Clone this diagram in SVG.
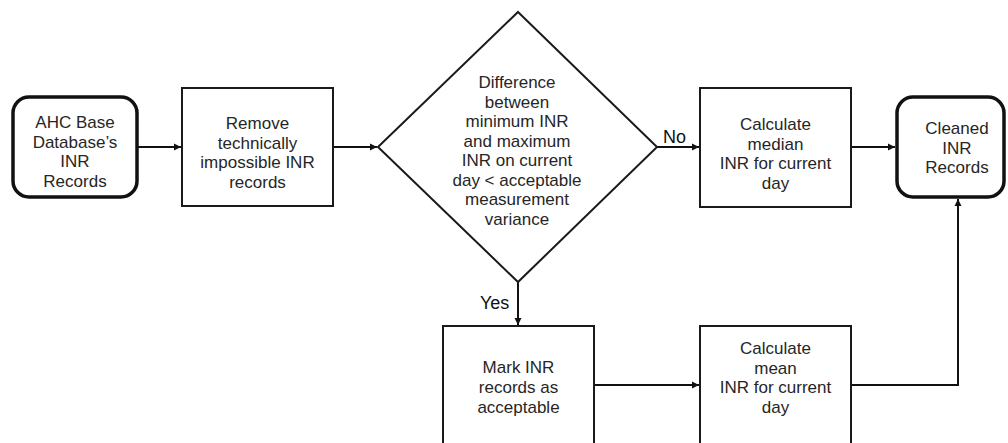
<svg xmlns="http://www.w3.org/2000/svg" width="1008" height="443" viewBox="0 0 1008 443">
<style>
.box{fill:#fff;stroke:#1a1a1a;stroke-width:2}
.term{fill:#fff;stroke:#111;stroke-width:3.5}
.t{font-family:"Liberation Sans",Arial,sans-serif;font-size:17px;fill:#262626;text-anchor:middle}
.lbl{font-family:"Liberation Sans",Arial,sans-serif;font-size:18px;fill:#111}
.c{fill:none;stroke:#111;stroke-width:2}
</style>
<defs>
<marker id="ah" markerWidth="8" markerHeight="8" refX="7" refY="4" orient="auto" markerUnits="userSpaceOnUse">
<path d="M0,0.5 L7,4 L0,7.5 Z" fill="#111"/>
</marker>
</defs>
<rect width="1008" height="443" fill="#fff"/>
<g id="connectors">
<line class="c" x1="137" y1="147" x2="181" y2="147" marker-end="url(#ah)"/>
<line class="c" x1="333" y1="147" x2="377" y2="147" marker-end="url(#ah)"/>
<line class="c" x1="657" y1="147" x2="699" y2="147" marker-end="url(#ah)"/>
<line class="c" x1="851" y1="147" x2="895" y2="147" marker-end="url(#ah)"/>
<line class="c" x1="518" y1="282" x2="518" y2="325" marker-end="url(#ah)"/>
<line class="c" x1="594" y1="385" x2="699" y2="385" marker-end="url(#ah)"/>
<polyline class="c" points="851,385 958,385 958,199" marker-end="url(#ah)"/>
<text class="lbl" x="663" y="143">No</text>
<text class="lbl" x="480" y="309">Yes</text>
</g>
<g id="n-ahc">
<rect class="term" x="13" y="97" width="124" height="100" rx="16"/>
<text class="t" x="75" y="128">AHC Base</text>
<text class="t" x="75" y="147.5">Database’s</text>
<text class="t" x="75" y="167">INR</text>
<text class="t" x="75" y="186.5">Records</text>
</g>
<g id="n-remove">
<rect class="box" x="182" y="88" width="151" height="118"/>
<text class="t" x="257.5" y="129">Remove</text>
<text class="t" x="257.5" y="148.5">technically</text>
<text class="t" x="257.5" y="168">impossible INR</text>
<text class="t" x="257.5" y="187.5">records</text>
</g>
<g id="n-decision">
<polygon class="box" points="518,12 657,147 518,282 378,147"/>
<text class="t" x="517" y="88">Difference</text>
<text class="t" x="517" y="107.5">between</text>
<text class="t" x="517" y="127">minimum INR</text>
<text class="t" x="517" y="146.5">and maximum</text>
<text class="t" x="517" y="166">INR on current</text>
<text class="t" x="517" y="185.5">day &lt; acceptable</text>
<text class="t" x="517" y="205">measurement</text>
<text class="t" x="517" y="224.5">variance</text>
</g>
<g id="n-median">
<rect class="box" x="700" y="88" width="151" height="119"/>
<text class="t" x="775.5" y="130">Calculate</text>
<text class="t" x="775.5" y="149.5">median</text>
<text class="t" x="775.5" y="169">INR for current</text>
<text class="t" x="775.5" y="188.5">day</text>
</g>
<g id="n-cleaned">
<rect class="term" x="897" y="97" width="107" height="100" rx="16"/>
<text class="t" x="957" y="134">Cleaned</text>
<text class="t" x="957" y="153.5">INR</text>
<text class="t" x="957" y="173">Records</text>
</g>
<g id="n-mark">
<rect class="box" x="443" y="326" width="151" height="130"/>
<text class="t" x="518.5" y="373">Mark INR</text>
<text class="t" x="518.5" y="393">records as</text>
<text class="t" x="518.5" y="413">acceptable</text>
</g>
<g id="n-mean">
<rect class="box" x="700" y="326" width="151" height="130"/>
<text class="t" x="775.5" y="354">Calculate</text>
<text class="t" x="775.5" y="373.5">mean</text>
<text class="t" x="775.5" y="393">INR for current</text>
<text class="t" x="775.5" y="412.5">day</text>
</g>
</svg>
